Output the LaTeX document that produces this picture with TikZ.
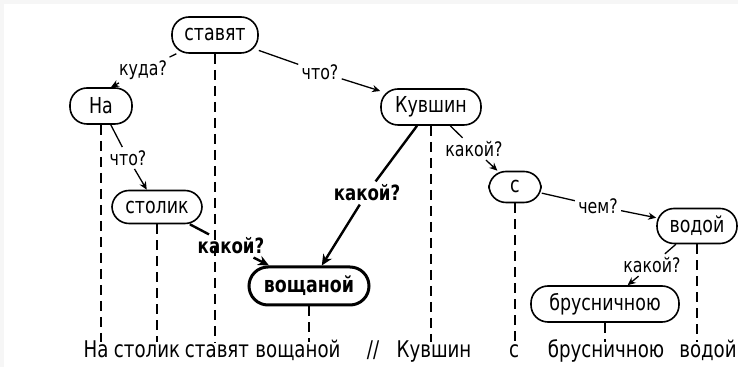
\documentclass[tikz,border=0pt]{standalone}
\usepackage{fontspec}
\setmainfont{DejaVu Sans Condensed}[FakeStretch=0.88]
\usetikzlibrary{arrows.meta, positioning, calc}
\definecolor{pagegray}{RGB}{246,246,246}
\tikzset{
  word/.style={
    rectangle, rounded corners=8.5pt,
    draw=black, line width=0.8pt,
    font=\fontsize{11}{12}\selectfont,
    inner sep=2pt, minimum height=18pt},
  headword/.style={
    word, line width=1.5pt, rounded corners=9.5pt,
    font=\fontsize{11}{12}\selectfont\bfseries, minimum height=19pt},
  quest/.style={
    font=\fontsize{10}{11}\selectfont, inner sep=1.5pt},
  boldquest/.style={
    quest, font=\fontsize{10.5}{11}\selectfont\bfseries},
  textword/.style={
    anchor=base, font=\fontsize{11.5}{13}\selectfont, inner sep=0pt},
  link/.style={line width=0.65pt},
  arrow/.style={-{Stealth[length=4pt, width=3.6pt]}, line width=0.65pt},
  boldlink/.style={line width=1.2pt},
  boldarrow/.style={-{Stealth[length=5.5pt, width=5pt]}, line width=1.2pt},
  dropline/.style={dash pattern=on 5pt off 3pt, line width=0.65pt},
  bolddrop/.style={dash pattern=on 5pt off 3pt, line width=1.3pt}
}

\begin{document}
\begin{tikzpicture}[x=0.5pt, y=-0.5pt]

  %% page
  \fill[pagegray] (0,0) rectangle (738,367);
  \fill[white] (4,4) rectangle (738,367);
  \useasboundingbox (0,0) rectangle (738,367);

  %% tree nodes
  \node[word, minimum width=43pt] (stavyat) at (215,35) {ставят};
  \node[word, minimum width=31pt] (na) at (101,106) {На};
  \node[word, minimum width=50pt] (kuvshin) at (431,107) {Кувшин};
  \node[word, minimum width=45pt, minimum height=16.5pt] (stolik) at (157,207) {столик};
  \node[headword, minimum width=60pt] (voshchanoy) at (309,286) {вощаной};
  \node[word, minimum width=26pt, minimum height=15.5pt] (s) at (515,187) {с};
  \node[word, minimum width=40pt, minimum height=17.5pt] (vodoy) at (697,226) {водой};
  \node[word, minimum width=74pt] (brusnichnoyu) at (605,304) {брусничною};

  %% questions
  \node[quest] (qkuda) at (143,70) {куда?};
  \node[quest] (qchto) at (320,72) {что?};
  \node[quest] (qchto2) at (128,158) {что?};
  \node[boldquest] (qkakoy) at (231,246) {какой?};
  \node[boldquest] (qkakoy2) at (367,193) {какой?};
  \node[quest] (qkakoy3) at (474,149) {какой?};
  \node[quest] (qchem) at (598,206) {чем?};
  \node[quest] (qkakoy4) at (652,265) {какой?};

  %% sentence
  \coordinate (base) at (0,342);
  \node[textword] (tna) at (96,358) {На};
  \node[textword] (tstolik) at (147,358) {столик};
  \node[textword] (tstavyat) at (217,358) {ставят};
  \node[textword] (tvoshchanoy) at (298,358) {вощаной};
  \node[textword] (tslash) at (373,358) {//};
  \node[textword] (tkuvshin) at (434,358) {Кувшин};
  \node[textword] (ts) at (514,358) {с};
  \node[textword] (tbrusnichnoyu) at (606,358) {брусничною};
  \node[textword] (tvodoy) at (708,358) {водой};

  %% links
  \draw[link] (stavyat) -- (qkuda);
  \draw[arrow] (qkuda) -- ([xshift=5pt]na.north);
  \draw[link] (stavyat) -- (qchto);
  \draw[arrow] (qchto) -- (kuvshin);
  \draw[link] (na) -- (qchto2);
  \draw[arrow] (qchto2) -- (stolik);
  \draw[boldlink] (stolik) -- (qkakoy);
  \draw[boldarrow] (qkakoy) -- (voshchanoy);
  \draw[boldlink] (kuvshin) -- (qkakoy2);
  \draw[boldarrow] (qkakoy2) -- (voshchanoy);
  \draw[link] (kuvshin) -- (qkakoy3);
  \draw[arrow] (qkakoy3) -- (s);
  \draw[link] (s) -- (qchem);
  \draw[arrow] (qchem) -- (vodoy);
  \draw[link] (vodoy) -- (qkakoy4);
  \draw[arrow] (qkakoy4) -- (brusnichnoyu);

  %% projections
  \draw[dropline] (na.south) -- (na.south |- base);
  \draw[dropline] (stolik.south) -- (stolik.south |- base);
  \draw[dropline] (stavyat.south) -- (stavyat.south |- base);
  \draw[bolddrop] (voshchanoy.south) -- (voshchanoy.south |- base);
  \draw[dropline] (kuvshin.south) -- (kuvshin.south |- base);
  \draw[dropline] (s.south) -- (s.south |- base);
  \draw[dropline] (brusnichnoyu.south) -- (brusnichnoyu.south |- base);
  \draw[dropline] (vodoy.south) -- (vodoy.south |- base);

\end{tikzpicture}
\end{document}
